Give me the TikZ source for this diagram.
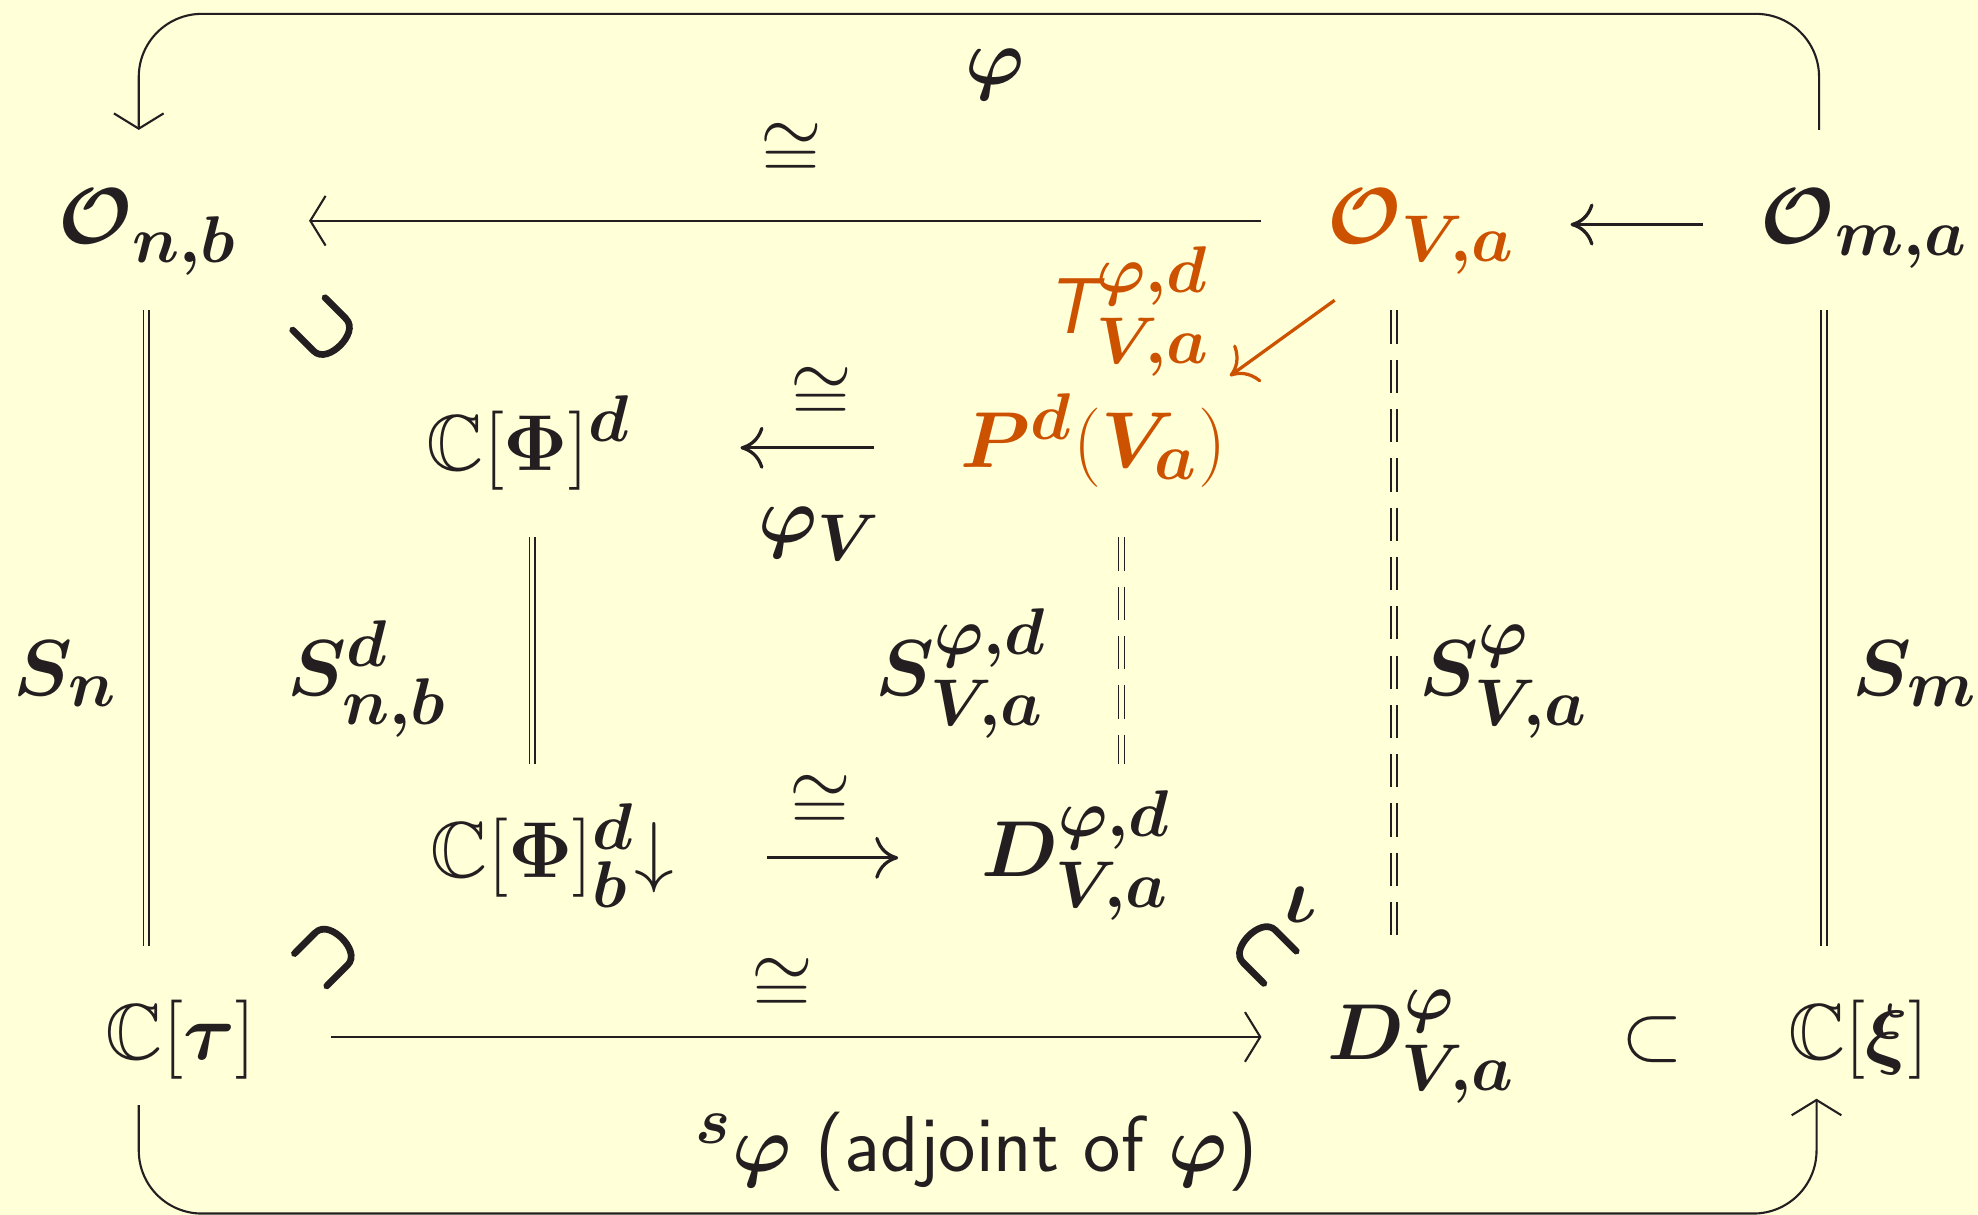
\documentclass[tikz,border=0pt]{standalone}
\usepackage{amsmath,amssymb,bm}
\usetikzlibrary{arrows.meta,calc}
\DeclareMathSizes{20.74}{20.74}{17.28}{14.4}
\definecolor{bgc}{RGB}{255,255,216}
\definecolor{ink}{RGB}{35,31,32}
\definecolor{alertc}{RGB}{204,82,0}
\newcommand{\heavy}[1]{\special{pdf:literal direct 2 Tr 0.5 w}#1\special{pdf:literal direct 0 Tr}}
\tikzset{
 m/.style={inner sep=0pt, anchor=base, font=\huge, text=ink},
 lbl/.style={inner sep=0pt, anchor=center, font=\huge, text=ink},
 hot/.style={text=alertc},
 longarr/.style={draw=ink, line width=0.55pt, -{Straight Barb[length=4pt,width=13pt]}},
 shortarr/.style={draw=ink, line width=0.85pt, -{Computer Modern Rightarrow[length=6pt,width=11pt]}},
 loopline/.style={draw=ink, line width=0.55pt, rounded corners=16.5pt, -{Straight Barb[length=4pt,width=13pt]}},
 eqline/.style={draw=ink, line width=0.43pt, double=bgc, double distance=1.1pt},
 eqdash/.style={eqline, dash pattern=on 8.7pt off 4.2pt},
 hotarr/.style={draw=alertc, line width=0.85pt, -{Computer Modern Rightarrow[length=6pt,width=12pt]}},
}
\begin{document}
\begin{tikzpicture}[x=0.33pt,y=-0.33pt]
\fill[bgc] (0,0) rectangle (1568,963);
\useasboundingbox (0,0) rectangle (1568,963);

% row 1
\node[m] (Onb) at (117,193) {$\bm{\mathcal O}_{\bm{n,b}}$};
\node[m,hot] (Ova) at (1127,193) {$\bm{\mathcal O}_{\bm{V,a}}$};
\node[m] (Oma) at (1478,193) {$\bm{\mathcal O}_{\bm{m,a}}$};
% row 2
\node[m] (CPd) at (419,373) {$\mathbb C[\mathbf\Phi]^{\bm d}$};
\node[m,hot] (Pd) at (867,371) {$\bm P^{\bm d}(\bm V_{\bm a})$};
\node[m,hot] (T) at (894,264) {$\text{\sffamily\itshape T}^{\bm{\varphi,d}}_{\bm{V,a}}$};
% row 3
\node[m] (CPdb) at (438,696) {$\mathbb C[\mathbf\Phi]^{\bm d}_{\bm b}{\downarrow}$};
\node[m] (DVad) at (853,695) {$\bm D^{\bm{\varphi,d}}_{\bm{V,a}}$};
% row 4
\node[m] (Ctau) at (143,840) {$\mathbb C[\bm\tau]$};
\node[m] (DVa) at (1127,840) {$\bm D^{\bm\varphi}_{\bm{V,a}}$};
\node[m] (incl) at (1310,840) {$\subset$};
\node[m] (Cxi) at (1473,840) {$\mathbb C[\bm\xi]$};
% side labels
\node[m] (Sn) at (52,551) {$\bm S_{\bm n}$};
\node[m] (Snb) at (291,551) {$\bm S^{\bm d}_{\bm{n,b}}$};
\node[m] (SVad) at (762,551) {$\bm S^{\bm{\varphi,d}}_{\bm{V,a}}$};
\node[m] (SVa) at (1192,551) {$\bm S^{\bm\varphi}_{\bm{V,a}}$};
\node[m] (Sm) at (1518,551) {$\bm S_{\bm m}$};
% arrow labels
\node[m] (phiTop) at (789,67) {$\bm\varphi$};
\node[m] (adj) at (774,929) {${}^{\bm s}\bm\varphi$ \textsf{(adjoint of $\bm\varphi$)}};
\node[lbl] (c1) at (627,120) {$\cong$};
\node[lbl] (c2) at (651,313) {$\cong$};
\node[lbl] (c3) at (650,637) {$\cong$};
\node[lbl] (c4) at (620,782) {$\cong$};
\node[m] (phiV) at (650,430) {$\bm\varphi_{\bm V}$};
\node[lbl, rotate=45] (cupA) at (258,262) {\heavy{$\bm\cup$}};
\node[lbl, rotate=-45] (capB) at (258,757) {\heavy{$\bm\cap$}};
\node[lbl, rotate=45] (capC) at (1003,755) {\heavy{$\bm\cap$}};
\node[m] (iota) at (1031,731) {$\bm\iota$};

% horizontal arrows
\draw[longarr] ($(Ova.base)+(-127,-18)$) -- ($(Onb.base)+(128,-18)$);
\draw[shortarr] ($(Oma.base)+(-128,-15)$) -- ($(Ova.base)+(118,-15)$);
\draw[shortarr] ($(Pd.base)+(-174,-16)$) -- ($(CPd.base)+(168,-18)$);
\draw[shortarr] ($(CPdb.base)+(170,-16)$) -- ($(DVad.base)+(-141,-15)$);
\draw[longarr] ($(Ctau.base)+(119,-18)$) -- ($(DVa.base)+(-127,-18)$);

% loops
\draw[loopline] ($(Oma.base)+(-36,-90)$) |- ($(Onb.base)+(-7,-182)$) -- ($(Onb.base)+(-7,-90)$);
\draw[loopline] ($(Ctau.base)+(-33,36)$) |- ($(Cxi.base)+(-33,122)$) -- ($(Cxi.base)+(-33,31)$);

% vertical equalities
\draw[eqline] ($(Onb.base)+(-1,53)$) -- ($(Ctau.base)+(-27,-90)$);
\draw[eqline] ($(Oma.base)+(-32,53)$) -- ($(Cxi.base)+(-27,-90)$);
\draw[eqdash] ($(Ova.base)+(-22,53)$) -- ($(DVa.base)+(-22,-90)$);
\draw[eqline] ($(CPd.base)+(3,53)$) -- ($(CPdb.base)+(-16,-90)$);
\draw[eqdash] ($(Pd.base)+(22,55)$) -- ($(DVad.base)+(36,-89)$);

% orange arrow
\draw[hotarr] ($(Ova.base)+(-69,45)$) -- ($(Pd.base)+(108,-73)$);
\end{tikzpicture}
\end{document}
